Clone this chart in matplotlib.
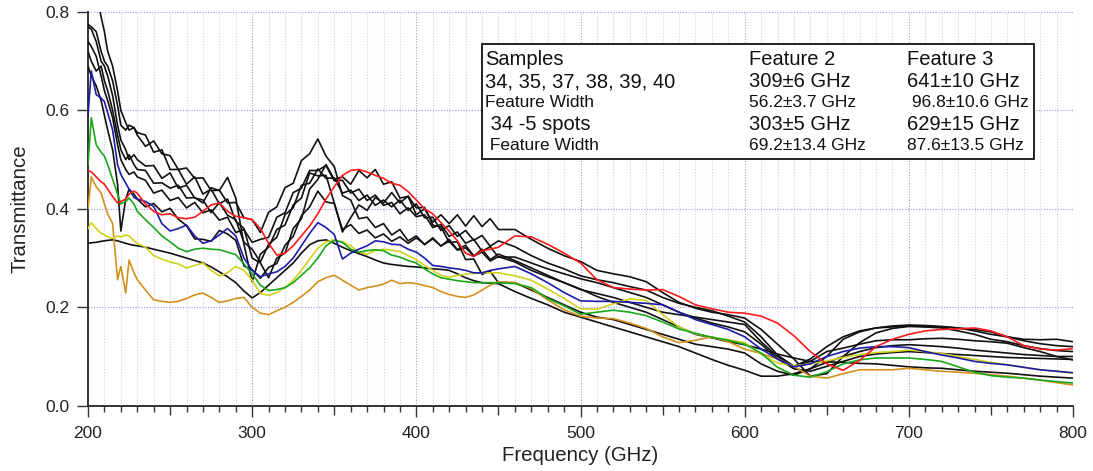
import matplotlib
matplotlib.use("Agg")
import matplotlib.pyplot as plt
from matplotlib.patches import Rectangle
from matplotlib.ticker import MultipleLocator, FuncFormatter

plt.rcParams['font.family'] = ['Liberation Sans', 'DejaVu Sans']

FREQ = ([200, 202, 205, 208, 210, 212, 215, 218, 220, 223, 225, 228, 230]
        + [235, 240, 245, 250, 255, 260, 265, 270, 275, 280,
           285, 290, 295, 300, 305, 310, 315, 320, 325, 330,
           335, 340, 345, 350, 355, 360, 365, 370, 375, 380,
           385, 390, 395, 400, 405, 410, 415, 420, 425, 430,
           435, 440, 445, 450]
        + [460, 470, 480, 490, 500, 510, 520, 530, 540, 550,
           560, 570, 580, 590, 600, 610, 620, 630, 640, 650,
           660, 670, 680, 690, 700, 710, 720, 730, 740, 750,
           760, 770, 780, 790, 800])

RED = ([0.478, 0.475, 0.465, 0.455, 0.45, 0.44, 0.425, 0.412, 0.415, 0.42, 0.43, 0.436, 0.432]
       + [0.41, 0.395, 0.388, 0.39, 0.382, 0.38, 0.383, 0.395, 0.408, 0.412,
          0.395, 0.385, 0.382, 0.378, 0.36, 0.33, 0.306, 0.31, 0.325, 0.345,
          0.365, 0.39, 0.42, 0.445, 0.468, 0.478, 0.48, 0.475, 0.468, 0.462,
          0.452, 0.448, 0.435, 0.418, 0.40, 0.39, 0.372, 0.355, 0.335, 0.31,
          0.303, 0.315, 0.318, 0.322]
       + [0.345, 0.343, 0.328, 0.31, 0.29, 0.256, 0.24, 0.237, 0.235, 0.236,
          0.222, 0.205, 0.197, 0.19, 0.188, 0.182, 0.168, 0.142, 0.11, 0.085,
          0.072, 0.092, 0.12, 0.135, 0.145, 0.152, 0.155, 0.156, 0.158, 0.152,
          0.14, 0.122, 0.115, 0.113, 0.116])

BLUE = ([0.59, 0.68, 0.632, 0.625, 0.618, 0.595, 0.56, 0.49, 0.47, 0.452, 0.44, 0.423, 0.42]
        + [0.415, 0.405, 0.37, 0.355, 0.36, 0.367, 0.345, 0.33, 0.335, 0.347,
           0.36, 0.345, 0.3, 0.275, 0.262, 0.268, 0.272, 0.283, 0.3, 0.325,
           0.35, 0.372, 0.362, 0.348, 0.298, 0.31, 0.318, 0.325, 0.335, 0.333,
           0.328, 0.327, 0.318, 0.312, 0.3, 0.285, 0.283, 0.28, 0.278, 0.275,
           0.27, 0.27, 0.275, 0.278]
        + [0.283, 0.268, 0.25, 0.23, 0.213, 0.212, 0.212, 0.21, 0.208, 0.205,
           0.19, 0.175, 0.165, 0.155, 0.14, 0.115, 0.095, 0.079, 0.085, 0.1,
           0.11, 0.117, 0.12, 0.12, 0.118, 0.11, 0.103, 0.097, 0.09, 0.086,
           0.083, 0.078, 0.073, 0.07, 0.067])

GREEN = ([0.49, 0.585, 0.53, 0.515, 0.507, 0.49, 0.46, 0.43, 0.41, 0.415, 0.422, 0.41, 0.395]
         + [0.378, 0.362, 0.345, 0.333, 0.32, 0.313, 0.318, 0.32, 0.318, 0.317,
            0.312, 0.307, 0.288, 0.268, 0.245, 0.234, 0.236, 0.24, 0.25, 0.265,
            0.28, 0.3, 0.325, 0.336, 0.332, 0.318, 0.312, 0.315, 0.317, 0.315,
            0.306, 0.302, 0.295, 0.29, 0.278, 0.268, 0.26, 0.257, 0.254, 0.252,
            0.25, 0.25, 0.25, 0.25]
         + [0.248, 0.24, 0.218, 0.203, 0.186, 0.19, 0.194, 0.19, 0.183, 0.17,
            0.156, 0.147, 0.139, 0.133, 0.125, 0.107, 0.078, 0.062, 0.058, 0.069,
            0.085, 0.093, 0.097, 0.097, 0.097, 0.094, 0.09, 0.079, 0.068, 0.061,
            0.058, 0.056, 0.052, 0.049, 0.046])

YELLOW = ([0.36, 0.372, 0.36, 0.35, 0.348, 0.343, 0.34, 0.345, 0.343, 0.347, 0.345, 0.335, 0.33]
          + [0.322, 0.305, 0.298, 0.292, 0.288, 0.28, 0.285, 0.29, 0.275, 0.264,
             0.27, 0.283, 0.275, 0.255, 0.228, 0.224, 0.23, 0.24, 0.255, 0.275,
             0.298, 0.32, 0.333, 0.337, 0.333, 0.325, 0.312, 0.308, 0.315, 0.318,
             0.316, 0.313, 0.305, 0.297, 0.285, 0.275, 0.265, 0.261, 0.265, 0.267,
             0.269, 0.27, 0.27, 0.27]
          + [0.264, 0.255, 0.237, 0.218, 0.197, 0.196, 0.207, 0.217, 0.214, 0.185,
             0.16, 0.146, 0.139, 0.134, 0.128, 0.105, 0.087, 0.081, 0.085, 0.091,
             0.098, 0.104, 0.108, 0.11, 0.113, 0.11, 0.106, 0.1, 0.094, 0.088,
             0.083, 0.078, 0.073, 0.07, 0.066])

ORANGE = ([0.40, 0.465, 0.445, 0.432, 0.41, 0.39, 0.37, 0.256, 0.283, 0.229, 0.296, 0.27, 0.256]
          + [0.235, 0.215, 0.212, 0.21, 0.212, 0.218, 0.225, 0.229, 0.22, 0.21,
             0.213, 0.218, 0.22, 0.2, 0.188, 0.185, 0.193, 0.2, 0.21, 0.222,
             0.235, 0.252, 0.26, 0.265, 0.255, 0.245, 0.235, 0.24, 0.243, 0.247,
             0.255, 0.248, 0.25, 0.248, 0.244, 0.24, 0.232, 0.226, 0.222, 0.22,
             0.225, 0.235, 0.245, 0.252]
          + [0.25, 0.238, 0.215, 0.195, 0.182, 0.178, 0.177, 0.168, 0.157, 0.14,
             0.128, 0.133, 0.14, 0.13, 0.115, 0.106, 0.095, 0.08, 0.06, 0.056,
             0.065, 0.073, 0.073, 0.073, 0.076, 0.073, 0.07, 0.068, 0.066, 0.063,
             0.06, 0.056, 0.052, 0.047, 0.042])

BLACK_1 = ([0.33, 0.331, 0.332, 0.334, 0.335, 0.336, 0.337, 0.335, 0.333, 0.33, 0.328, 0.326, 0.325]
           + [0.322, 0.318, 0.314, 0.31, 0.305, 0.3, 0.295, 0.29, 0.282, 0.272,
              0.262, 0.25, 0.233, 0.219, 0.23, 0.245, 0.26, 0.275, 0.29, 0.31,
              0.327, 0.335, 0.337, 0.33, 0.322, 0.315, 0.309, 0.303, 0.296, 0.29,
              0.287, 0.285, 0.283, 0.282, 0.28, 0.278, 0.277, 0.275, 0.268, 0.26,
              0.254, 0.25, 0.249, 0.248]
           + [0.232, 0.218, 0.205, 0.19, 0.18, 0.17, 0.16, 0.15, 0.14, 0.13,
              0.12, 0.107, 0.094, 0.082, 0.072, 0.06, 0.06, 0.065, 0.075, 0.088,
              0.1, 0.11, 0.118, 0.122, 0.124, 0.122, 0.12, 0.117, 0.113, 0.11,
              0.107, 0.104, 0.102, 0.1, 0.1])

BLACK_2 = ([0.775, 0.77, 0.76, 0.72, 0.70, 0.69, 0.66, 0.61, 0.57, 0.56, 0.57, 0.565, 0.555]
           + [0.55, 0.515, 0.52, 0.48, 0.48, 0.45, 0.465, 0.43, 0.44, 0.41,
              0.42, 0.375, 0.36, 0.30, 0.29, 0.26, 0.30, 0.31, 0.36, 0.38,
              0.44, 0.46, 0.49, 0.46, 0.465, 0.45, 0.478, 0.463, 0.48, 0.45,
              0.455, 0.422, 0.425, 0.388, 0.40, 0.373, 0.388, 0.37, 0.388, 0.365,
              0.386, 0.364, 0.38, 0.358]
           + [0.358, 0.338, 0.32, 0.305, 0.293, 0.275, 0.268, 0.262, 0.252, 0.23,
              0.21, 0.198, 0.19, 0.185, 0.178, 0.155, 0.125, 0.095, 0.06, 0.065,
              0.1, 0.128, 0.148, 0.157, 0.161, 0.16, 0.158, 0.152, 0.145, 0.135,
              0.13, 0.122, 0.116, 0.112, 0.11])

BLACK_3 = ([0.85, 0.86, 0.84, 0.79, 0.76, 0.72, 0.69, 0.64, 0.60, 0.575, 0.56, 0.565, 0.55]
           + [0.527, 0.538, 0.512, 0.508, 0.48, 0.483, 0.462, 0.463, 0.437, 0.438,
              0.412, 0.413, 0.382, 0.378, 0.352, 0.393, 0.404, 0.443, 0.452, 0.498,
              0.512, 0.542, 0.507, 0.486, 0.427, 0.418, 0.38, 0.383, 0.362, 0.37,
              0.347, 0.358, 0.335, 0.345, 0.327, 0.341, 0.324, 0.338, 0.317, 0.326,
              0.304, 0.318, 0.297, 0.308]
           + [0.295, 0.28, 0.265, 0.25, 0.236, 0.228, 0.22, 0.21, 0.2, 0.19,
              0.185, 0.18, 0.175, 0.17, 0.165, 0.13, 0.1, 0.08, 0.09, 0.11,
              0.117, 0.125, 0.132, 0.134, 0.134, 0.136, 0.137, 0.135, 0.132, 0.13,
              0.127, 0.118, 0.11, 0.1, 0.093])

BLACK_4 = ([0.72, 0.70, 0.68, 0.69, 0.66, 0.64, 0.60, 0.55, 0.52, 0.50, 0.51, 0.49, 0.48]
           + [0.478, 0.452, 0.453, 0.442, 0.448, 0.422, 0.423, 0.412, 0.443, 0.437,
              0.464, 0.422, 0.328, 0.252, 0.308, 0.322, 0.358, 0.367, 0.408, 0.422,
              0.473, 0.467, 0.468, 0.412, 0.353, 0.382, 0.408, 0.397, 0.423, 0.412,
              0.433, 0.412, 0.426, 0.402, 0.403, 0.367, 0.363, 0.332, 0.333, 0.297,
              0.298, 0.267, 0.273, 0.25]
           + [0.25, 0.235, 0.22, 0.205, 0.19, 0.18, 0.175, 0.165, 0.155, 0.145,
              0.135, 0.125, 0.12, 0.115, 0.107, 0.085, 0.07, 0.062, 0.075, 0.1,
              0.135, 0.15, 0.158, 0.162, 0.164, 0.163, 0.161, 0.158, 0.152, 0.145,
              0.14, 0.135, 0.134, 0.135, 0.13])

BLACK_5 = ([0.77, 0.765, 0.74, 0.70, 0.69, 0.67, 0.63, 0.57, 0.54, 0.52, 0.50, 0.51, 0.50]
           + [0.487, 0.488, 0.462, 0.473, 0.442, 0.448, 0.422, 0.418, 0.392, 0.413,
              0.387, 0.378, 0.332, 0.318, 0.292, 0.328, 0.342, 0.388, 0.402, 0.448,
              0.452, 0.481, 0.462, 0.463, 0.432, 0.438, 0.417, 0.428, 0.407, 0.418,
              0.404, 0.418, 0.397, 0.41, 0.382, 0.383, 0.356, 0.366, 0.344, 0.356,
              0.336, 0.346, 0.324, 0.335]
           + [0.323, 0.305, 0.29, 0.278, 0.264, 0.256, 0.25, 0.242, 0.235, 0.22,
              0.208, 0.2, 0.193, 0.182, 0.17, 0.14, 0.103, 0.08, 0.095, 0.12,
              0.14, 0.152, 0.158, 0.16, 0.162, 0.161, 0.16, 0.158, 0.155, 0.15,
              0.14, 0.132, 0.126, 0.122, 0.12])

BLACK_6 = ([0.69, 0.67, 0.65, 0.62, 0.59, 0.56, 0.52, 0.45, 0.355, 0.42, 0.44, 0.43, 0.42]
           + [0.404, 0.411, 0.394, 0.401, 0.379, 0.366, 0.339, 0.338, 0.334, 0.356,
              0.349, 0.336, 0.284, 0.276, 0.259, 0.281, 0.289, 0.326, 0.344, 0.386,
              0.404, 0.436, 0.414, 0.411, 0.358, 0.368, 0.35, 0.357, 0.341, 0.349,
              0.334, 0.343, 0.33, 0.341, 0.328, 0.339, 0.325, 0.334, 0.316, 0.321,
              0.304, 0.312, 0.294, 0.303]
           + [0.292, 0.275, 0.262, 0.25, 0.237, 0.222, 0.21, 0.2, 0.19, 0.175,
              0.16, 0.145, 0.138, 0.13, 0.124, 0.115, 0.105, 0.097, 0.09, 0.089,
              0.088, 0.086, 0.085, 0.082, 0.079, 0.077, 0.076, 0.073, 0.07, 0.068,
              0.066, 0.063, 0.06, 0.058, 0.056])

BLACK_7 = ([0.74, 0.73, 0.71, 0.67, 0.64, 0.62, 0.585, 0.53, 0.50, 0.48, 0.47, 0.475, 0.465]
           + [0.458, 0.432, 0.438, 0.417, 0.423, 0.402, 0.413, 0.392, 0.398, 0.377,
              0.383, 0.352, 0.358, 0.332, 0.338, 0.342, 0.383, 0.392, 0.433, 0.442,
              0.478, 0.478, 0.488, 0.457, 0.458, 0.432, 0.44, 0.417, 0.428, 0.407,
              0.413, 0.39, 0.402, 0.384, 0.388, 0.362, 0.368, 0.344, 0.353, 0.33,
              0.338, 0.314, 0.323, 0.302]
           + [0.302, 0.29, 0.278, 0.268, 0.258, 0.25, 0.24, 0.23, 0.22, 0.205,
              0.19, 0.178, 0.168, 0.16, 0.15, 0.125, 0.095, 0.075, 0.07, 0.08,
              0.09, 0.1, 0.105, 0.108, 0.11, 0.108, 0.106, 0.104, 0.102, 0.1,
              0.098, 0.097, 0.096, 0.095, 0.094])

BLACKS = [BLACK_1, BLACK_2, BLACK_3, BLACK_4, BLACK_5, BLACK_6, BLACK_7]
COLORED = [(ORANGE, '#d4901c'), (YELLOW, '#d2d21e'), (GREEN, '#1aa81a'),
           (BLUE, '#1c1ca8'), (RED, '#ff1a1a')]

TABLE_ROWS = [
    ("Samples", "Feature 2", "Feature 3", 14.5),
    ("34, 35, 37, 38, 39, 40", "309\u00b16 GHz", "641\u00b110 GHz", 14.5),
    ("Feature Width", "56.2\u00b13.7 GHz", " 96.8\u00b110.6 GHz", 12.5),
    (" 34 -5 spots", "303\u00b15 GHz", "629\u00b115 GHz", 14.5),
    (" Feature Width", "69.2\u00b113.4 GHz", "87.6\u00b113.5 GHz", 12.5),
]

W, H = 1093, 471
fig = plt.figure(figsize=(W / 100, H / 100), dpi=100)
L, R, T, B = 88, 1073, 12, 405.7
ax = fig.add_axes([L / W, 1 - B / H, (R - L) / W, (B - T) / H])

for s in BLACKS:
    ax.plot(FREQ, s, color='#111111', lw=1.2, zorder=3)
for s, c in COLORED:
    ax.plot(FREQ, s, color=c, lw=1.2, zorder=4)

ax.set_xlim(200, 800)
ax.set_ylim(0, 0.8)

ax.xaxis.set_major_locator(MultipleLocator(50))
ax.xaxis.set_minor_locator(MultipleLocator(10))
ax.yaxis.set_major_locator(MultipleLocator(0.2))
ax.xaxis.set_major_formatter(FuncFormatter(lambda v, p: f"{int(round(v))}" if round(v) % 100 == 0 else ""))
ax.yaxis.set_major_formatter(FuncFormatter(lambda v, p: f"{v:.1f}"))

for sp in ['top', 'right']:
    ax.spines[sp].set_visible(False)
for sp in ['left', 'bottom']:
    ax.spines[sp].set_color('#333333')
    ax.spines[sp].set_linewidth(1.4)

ax.tick_params(axis='x', which='major', direction='out', length=8, width=1.0,
               color='#333333', labelsize=12.5, pad=6.5, labelcolor='#222222')
ax.tick_params(axis='x', which='minor', direction='out', length=4.5, width=1.0, color='#333333')
ax.tick_params(axis='y', which='major', direction='out', length=8, width=1.0,
               color='#333333', labelsize=12.5, pad=5, labelcolor='#222222')

ax.grid(True, which='major', axis='both', color='#9a9af0', linestyle=(0, (1, 1.5)), lw=0.8, zorder=0)
ax.grid(True, which='minor', axis='x', color='#cfcff7', linestyle=(0, (1, 1.5)), lw=0.8, zorder=0)
ax.set_axisbelow(True)

ax.set_xlabel("Frequency (GHz)", fontsize=14.7, color='#222222')
ax.set_ylabel("Transmittance", fontsize=14.7, color='#222222')
ax.xaxis.set_label_coords(0.5, -(446 - B) / (B - T))
ax.yaxis.set_label_coords((30 - L) / (R - L), 0.5)

fig.canvas.draw()
for t in ax.xaxis.get_major_ticks():
    v = t.get_loc()
    if round(v) % 100 != 0:
        t.tick1line.set_markersize(6.3)
        t.gridline.set_color('#cfcff7')

# table box
bx0, by0, bx1, by1 = 481.7, 44, 1034, 159
fig.patches.append(Rectangle((bx0 / W, 1 - by1 / H), (bx1 - bx0) / W, (by1 - by0) / H,
                             transform=fig.transFigure, facecolor='white',
                             edgecolor='#222222', lw=1.4, zorder=10))
row_y = [59.5, 81.5, 102.5, 124.5, 145.5]
col_x = [485, 749, 907]
for (c1, c2, c3, fs), y in zip(TABLE_ROWS, row_y):
    for txt, x in zip((c1, c2, c3), col_x):
        fig.text(x / W, 1 - y / H, txt, fontsize=fs, ha='left', va='center',
                 color='#111111', zorder=11)

fig.savefig("out.png", dpi=100)
